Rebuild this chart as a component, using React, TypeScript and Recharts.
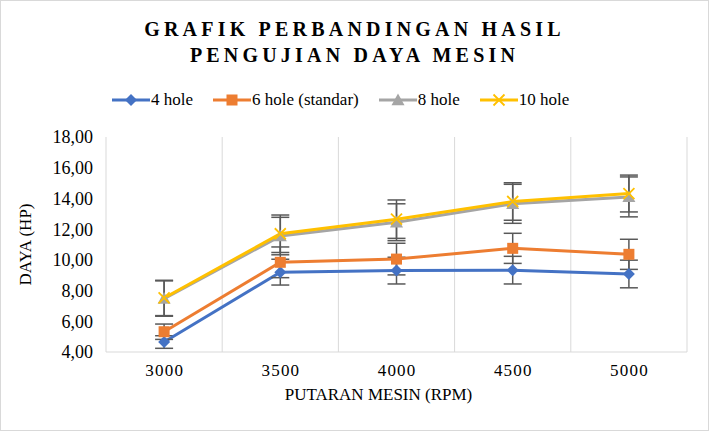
import React from "react";
import { LineChart, Line, XAxis, YAxis, CartesianGrid, Legend, ErrorBar, Label } from "recharts";

// Putaran mesin (RPM) on the x axis
const rpm = ["3000", "3500", "4000", "4500", "5000"];

// Daya (HP) per nozzle configuration
const hole4 = [4.65, 9.2, 9.3, 9.33, 9.08];
const hole6 = [5.32, 9.84, 10.05, 10.75, 10.36];
const hole8 = [7.48, 11.55, 12.45, 13.65, 14.1];
const hole10 = [7.52, 11.7, 12.65, 13.8, 14.32];

// error bar half-heights
const err4 = [0.41, 0.84, 0.87, 0.9, 0.9];
const err6 = [0.5, 1.0, 1.03, 0.98, 0.98];
const err8 = [1.15, 1.22, 1.2, 1.27, 1.3];
const err10 = [1.15, 1.22, 1.25, 1.22, 1.2];

const yTicks = [4, 6, 8, 10, 12, 14, 16, 18];

const FONT = "'Liberation Serif', 'Times New Roman', serif";
const COLORS = { h4: "#4472C4", h6: "#ED7D31", h8: "#A5A5A5", h10: "#FFC000" };

const data = rpm.map((r, i) => ({
  rpm: r,
  h4: hole4[i],
  h6: hole6[i],
  h8: hole8[i],
  h10: hole10[i],
  e4: err4[i],
  e6: err6[i],
  e8: err8[i],
  e10: err10[i],
}));

if (typeof document !== "undefined") document.body.style.margin = "0";

type Marker = "diamond" | "square" | "triangle" | "cross";

function MarkerShape({ kind, cx, cy, color }: { kind: Marker; cx: number; cy: number; color: string }) {
  if (kind === "diamond") {
    const s = 6;
    return <path d={`M${cx},${cy - s}L${cx + s},${cy}L${cx},${cy + s}L${cx - s},${cy}Z`} fill={color} />;
  }
  if (kind === "square") {
    const s = 5.5;
    return <rect x={cx - s} y={cy - s} width={s * 2} height={s * 2} fill={color} />;
  }
  if (kind === "triangle") {
    const s = 6.5;
    return <path d={`M${cx},${cy - s}L${cx + s},${cy + s * 0.8}L${cx - s},${cy + s * 0.8}Z`} fill={color} />;
  }
  const s = 5.5;
  return (
    <path d={`M${cx - s},${cy - s}L${cx + s},${cy + s}M${cx + s},${cy - s}L${cx - s},${cy + s}`} stroke={color} strokeWidth={1.8} fill="none" />
  );
}

const dotFor = (kind: Marker, color: string) => (props: any) => {
  const { cx, cy, index } = props;
  if (cx == null || cy == null) return <g key={index} />;
  return <MarkerShape key={index} kind={kind} cx={cx} cy={cy} color={color} />;
};

const legendItems: { label: string; color: string; kind: Marker }[] = [
  { label: "4 hole", color: COLORS.h4, kind: "diamond" },
  { label: "6 hole (standar)", color: COLORS.h6, kind: "square" },
  { label: "8 hole", color: COLORS.h8, kind: "triangle" },
  { label: "10 hole", color: COLORS.h10, kind: "cross" },
];

function LegendContent() {
  return (
    <div style={{ display: "flex", justifyContent: "flex-start", alignItems: "center", height: 24, paddingLeft: 112, fontFamily: FONT, fontSize: 17, color: "#000" }}>
      {legendItems.map((it, i) => (
        <div key={it.label} style={{ display: "flex", alignItems: "center", marginLeft: i === 0 ? 0 : 20 }}>
          <svg width={38} height={14} style={{ marginRight: 1 }}>
            <line x1={0} y1={7} x2={38} y2={7} stroke={it.color} strokeWidth={3} />
            <MarkerShape kind={it.kind} cx={19} cy={7} color={it.color} />
          </svg>
          <span>{it.label}</span>
        </div>
      ))}
    </div>
  );
}

export default function App() {
  return (
    <div style={{ position: "relative", width: 709, height: 431, background: "#fff", overflow: "hidden", fontFamily: FONT }}>
      <div
        style={{
          position: "absolute",
          top: 16,
          left: 0,
          width: 709,
          textAlign: "center",
          fontFamily: FONT,
          fontWeight: "bold",
          fontSize: 20,
          letterSpacing: 4.2,
          lineHeight: "26px",
          color: "#000",
        }}
      >
        GRAFIK PERBANDINGAN HASIL
        <br />
        PENGUJIAN DAYA MESIN
      </div>
      <LineChart width={709} height={431} data={data} margin={{ top: 113, right: 22, left: 10, bottom: 49 }} style={{ fontFamily: FONT }}>
        <CartesianGrid
          horizontal={false}
          stroke="#D9D9D9"
          verticalCoordinatesGenerator={({ offset }: any) =>
            rpm.map((_, i) => offset.left + (i * offset.width) / rpm.length).concat(offset.left + offset.width)
          }
        />
        <XAxis
          dataKey="rpm"
          scale="band"
          height={30}
          axisLine={{ stroke: "#D9D9D9" }}
          tickLine={false}
          tickMargin={6}
          tick={{ fontFamily: FONT, fontSize: 17, fill: "#000", letterSpacing: 1.2, dx: 0.6 }}
        >
          <Label value="PUTARAN MESIN (RPM)" position="bottom" offset={6} dx={-18} style={{ fontFamily: FONT, fontSize: 17, fill: "#000" }} />
        </XAxis>
        <YAxis
          width={96}
          domain={[4, 18]}
          ticks={yTicks}
          interval={0}
          axisLine={false}
          tickLine={false}
          tickMargin={7}
          tickFormatter={(v: number) => v.toFixed(2).replace(".", ",")}
          tick={{ fontFamily: FONT, fontSize: 18, fill: "#000" }}
        >
          <Label value="DAYA (HP)" angle={-90} position="insideLeft" offset={15} style={{ fontFamily: FONT, fontSize: 17, fill: "#000", textAnchor: "middle" }} />
        </YAxis>
        <Legend verticalAlign="top" align="center" wrapperStyle={{ top: 88, left: 0, width: 709 }} content={() => <LegendContent />} />
        <Line dataKey="h4" name="4 hole" stroke={COLORS.h4} strokeWidth={3} dot={dotFor("diamond", COLORS.h4)} activeDot={false} isAnimationActive={false}>
          <ErrorBar dataKey="e4" width={9} stroke="#595959" strokeWidth={1.5} direction="y" isAnimationActive={false} />
        </Line>
        <Line dataKey="h6" name="6 hole (standar)" stroke={COLORS.h6} strokeWidth={3} dot={dotFor("square", COLORS.h6)} activeDot={false} isAnimationActive={false}>
          <ErrorBar dataKey="e6" width={9} stroke="#595959" strokeWidth={1.5} direction="y" isAnimationActive={false} />
        </Line>
        <Line dataKey="h8" name="8 hole" stroke={COLORS.h8} strokeWidth={3} dot={dotFor("triangle", COLORS.h8)} activeDot={false} isAnimationActive={false}>
          <ErrorBar dataKey="e8" width={9} stroke="#595959" strokeWidth={1.5} direction="y" isAnimationActive={false} />
        </Line>
        <Line dataKey="h10" name="10 hole" stroke={COLORS.h10} strokeWidth={3} dot={dotFor("cross", COLORS.h10)} activeDot={false} isAnimationActive={false}>
          <ErrorBar dataKey="e10" width={9} stroke="#595959" strokeWidth={1.5} direction="y" isAnimationActive={false} />
        </Line>
      </LineChart>
      <div style={{ position: "absolute", inset: 0, border: "1px solid #D9D9D9", pointerEvents: "none" }} />
    </div>
  );
}
